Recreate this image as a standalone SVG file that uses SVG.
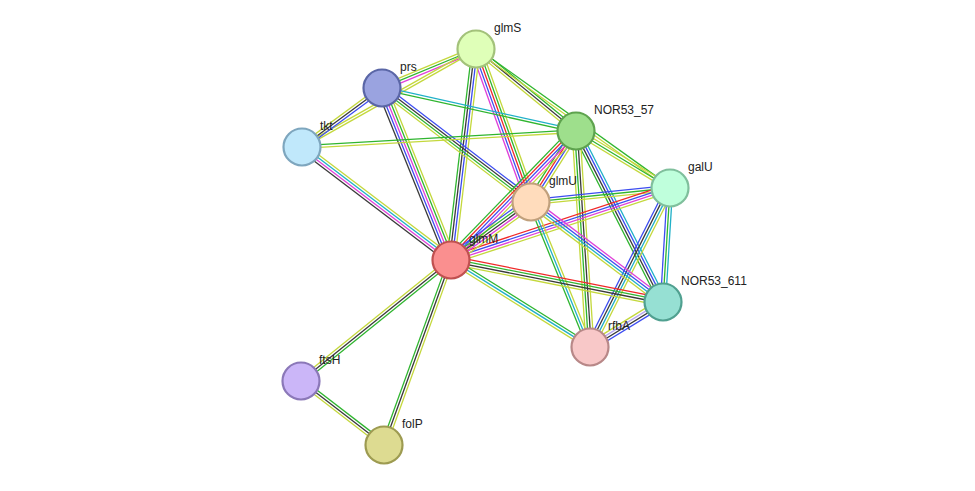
<svg xmlns="http://www.w3.org/2000/svg" width="975" height="491" viewBox="0 0 975 491">
<style>
line{stroke-width:1.3}
.g{stroke:#2fb52f}.y{stroke:#c4d83c}.k{stroke:#3a3a3a}.b{stroke:#3c4cf0}.m{stroke:#e040d8}.c{stroke:#20b0c8}.r{stroke:#f02828}.l{stroke:#b8a8f0}
.n circle{stroke-width:2.2}
text{font-family:"Liberation Sans",Arial,sans-serif;font-size:12px;fill:#222}
</style>
<rect width="975" height="491" fill="#fff"/>
<g id="connectors">
<g transform="translate(476,49) rotate(157.5)"><line x2="101.8" y1="-2.6" y2="-2.6" class="m"/><line x2="101.8" class="g"/><line x2="101.8" y1="2.6" y2="2.6" class="y"/></g>
<g transform="translate(476,49) rotate(39.35)"><line x2="129.3" y1="-2.6" y2="-2.6" class="g"/><line x2="129.3" class="k"/><line x2="129.3" y1="2.6" y2="2.6" class="y"/></g>
<g transform="translate(476,49) rotate(35.6)"><line x2="238.7" y1="-1.3" y2="-1.3" class="g"/><line x2="238.7" y1="1.3" y2="1.3" class="y"/></g>
<g transform="translate(476,49) rotate(70.2)"><line x2="162.6" y1="-5.2" y2="-5.2" class="y"/><line x2="162.6" y1="-2.6" y2="-2.6" class="g"/><line x2="162.6" class="r"/><line x2="162.6" y1="2.6" y2="2.6" class="b"/><line x2="162.6" y1="5.2" y2="5.2" class="m"/></g>
<g transform="translate(476,49) rotate(96.8)"><line x2="212.5" y1="-3.9" y2="-3.9" class="y"/><line x2="212.5" y1="-1.3" y2="-1.3" class="b"/><line x2="212.5" y1="1.3" y2="1.3" class="k"/><line x2="212.5" y1="3.9" y2="3.9" class="g"/></g>
<g transform="translate(302,147) rotate(-29.4)"><line x2="199.7" y1="-1.3" y2="-1.3" class="y"/><line x2="199.7" y1="1.3" y2="1.3" class="y"/></g>
<g transform="translate(382,88) rotate(12.5)"><line x2="198.7" y1="-1.3" y2="-1.3" class="c"/><line x2="198.7" y1="1.3" y2="1.3" class="g"/></g>
<g transform="translate(382,88) rotate(37.4)"><line x2="187.6" y1="-3.9" y2="-3.9" class="b"/><line x2="187.6" y1="-1.3" y2="-1.3" class="k"/><line x2="187.6" y1="1.3" y2="1.3" class="g"/><line x2="187.6" y1="3.9" y2="3.9" class="y"/></g>
<g transform="translate(382,88) rotate(68.1)"><line x2="185.3" y1="-5.2" y2="-5.2" class="y"/><line x2="185.3" y1="-2.6" y2="-2.6" class="g"/><line x2="185.3" class="m"/><line x2="185.3" y1="2.6" y2="2.6" class="b"/><line x2="185.3" y1="5.2" y2="5.2" class="k"/></g>
<g transform="translate(382,88) rotate(143.6)"><line x2="99.4" y1="-2.6" y2="-2.6" class="b"/><line x2="99.4" class="k"/><line x2="99.4" y1="2.6" y2="2.6" class="y"/></g>
<g transform="translate(302,147) rotate(-3.3)"><line x2="274.5" y1="-1.3" y2="-1.3" class="g"/><line x2="274.5" y1="1.3" y2="1.3" class="y"/></g>
<g transform="translate(302,147) rotate(37.2)"><line x2="187" y1="-3.9" y2="-3.9" class="y"/><line x2="187" y1="-1.3" y2="-1.3" class="c"/><line x2="187" y1="1.3" y2="1.3" class="m"/><line x2="187" y1="3.9" y2="3.9" class="k"/></g>
<g transform="translate(576,131) rotate(122.4)"><line x2="84.1" y1="-3.9" y2="-3.9" class="y"/><line x2="84.1" y1="-1.3" y2="-1.3" class="b"/><line x2="84.1" y1="1.3" y2="1.3" class="r"/><line x2="84.1" y1="3.9" y2="3.9" class="g"/></g>
<g transform="translate(576,131) rotate(134.1)"><line x2="179.6" y1="-5.2" y2="-5.2" class="y"/><line x2="179.6" y1="-2.6" y2="-2.6" class="m"/><line x2="179.6" class="b"/><line x2="179.6" y1="2.6" y2="2.6" class="r"/><line x2="179.6" y1="5.2" y2="5.2" class="g"/></g>
<g transform="translate(576,131) rotate(31.2)"><line x2="109.9" y1="-2.6" y2="-2.6" class="y"/><line x2="109.9" class="g"/><line x2="109.9" y1="2.6" y2="2.6" class="y"/></g>
<g transform="translate(576,131) rotate(63)"><line x2="191.9" y1="-3.9" y2="-3.9" class="c"/><line x2="191.9" y1="-1.3" y2="-1.3" class="b"/><line x2="191.9" y1="1.3" y2="1.3" class="k"/><line x2="191.9" y1="3.9" y2="3.9" class="g"/></g>
<g transform="translate(576,131) rotate(86.3)"><line x2="216.5" y1="-3.9" y2="-3.9" class="y"/><line x2="216.5" y1="-1.3" y2="-1.3" class="k"/><line x2="216.5" y1="1.3" y2="1.3" class="g"/><line x2="216.5" y1="3.9" y2="3.9" class="y"/></g>
<g transform="translate(670,188) rotate(174.2)"><line x2="139.7" y1="-2.6" y2="-2.6" class="y"/><line x2="139.7" class="g"/><line x2="139.7" y1="2.6" y2="2.6" class="b"/></g>
<g transform="translate(670,188) rotate(161.8)"><line x2="230.5" y1="-3.9" y2="-3.9" class="y"/><line x2="230.5" y1="-1.3" y2="-1.3" class="m"/><line x2="230.5" y1="1.3" y2="1.3" class="b"/><line x2="230.5" y1="3.9" y2="3.9" class="r"/></g>
<g transform="translate(670,188) rotate(93.5)"><line x2="114.2" y1="-2.6" y2="-2.6" class="c"/><line x2="114.2" class="g"/><line x2="114.2" y1="2.6" y2="2.6" class="b"/></g>
<g transform="translate(670,188) rotate(116.7)"><line x2="178" y1="-3.9" y2="-3.9" class="y"/><line x2="178" y1="-1.3" y2="-1.3" class="c"/><line x2="178" y1="1.3" y2="1.3" class="k"/><line x2="178" y1="3.9" y2="3.9" class="b"/></g>
<g transform="translate(531,202) rotate(144.1)"><line x2="98.8" y1="-5.2" y2="-5.2" class="y"/><line x2="98.8" y1="-2.6" y2="-2.6" class="m"/><line x2="98.8" class="k"/><line x2="98.8" y1="2.6" y2="2.6" class="g"/><line x2="98.8" y1="5.2" y2="5.2" class="b"/></g>
<g transform="translate(531,202) rotate(37.1)"><line x2="165.6" y1="-3.9" y2="-3.9" class="m"/><line x2="165.6" y1="-1.3" y2="-1.3" class="b"/><line x2="165.6" y1="1.3" y2="1.3" class="c"/><line x2="165.6" y1="3.9" y2="3.9" class="y"/></g>
<g transform="translate(531,202) rotate(67.9)"><line x2="156.5" y1="-2.6" y2="-2.6" class="y"/><line x2="156.5" class="c"/><line x2="156.5" y1="2.6" y2="2.6" class="g"/></g>
<g transform="translate(451,260) rotate(11.2)"><line x2="216.1" y1="-3.9" y2="-3.9" class="r"/><line x2="216.1" y1="-1.3" y2="-1.3" class="g"/><line x2="216.1" y1="1.3" y2="1.3" class="k"/><line x2="216.1" y1="3.9" y2="3.9" class="y"/></g>
<g transform="translate(451,260) rotate(32)"><line x2="164" y1="-2.6" y2="-2.6" class="g"/><line x2="164" class="c"/><line x2="164" y1="2.6" y2="2.6" class="y"/></g>
<g transform="translate(663,302) rotate(148.4)"><line x2="85.8" y1="-3.9" y2="-3.9" class="b"/><line x2="85.8" y1="-1.3" y2="-1.3" class="k"/><line x2="85.8" y1="1.3" y2="1.3" class="l"/><line x2="85.8" y1="3.9" y2="3.9" class="y"/></g>
<g transform="translate(451,260) rotate(141.1)"><line x2="192.7" y1="-2.6" y2="-2.6" class="g"/><line x2="192.7" class="k"/><line x2="192.7" y1="2.6" y2="2.6" class="y"/></g>
<g transform="translate(451,260) rotate(109.9)"><line x2="196.8" y1="-2.6" y2="-2.6" class="y"/><line x2="196.8" class="k"/><line x2="196.8" y1="2.6" y2="2.6" class="g"/></g>
<g transform="translate(301,381) rotate(37.6)"><line x2="104.8" y1="-2.6" y2="-2.6" class="g"/><line x2="104.8" class="k"/><line x2="104.8" y1="2.6" y2="2.6" class="y"/></g>
</g>
<g id="glmS" class="n"><circle cx="476" cy="49" r="18.5" fill="#dfffb8" stroke="#a3c27a"/><text x="494" y="32">glmS</text></g>
<g id="prs" class="n"><circle cx="382" cy="88" r="18.5" fill="#9aa3e0" stroke="#5a66a6"/><text x="400" y="71">prs</text></g>
<g id="tkt" class="n"><circle cx="302" cy="147" r="18.5" fill="#c0e8fb" stroke="#7ea6be"/><text x="320" y="130">tkt</text></g>
<g id="NOR53_57" class="n"><circle cx="576" cy="131" r="18.5" fill="#9edf8c" stroke="#5ea34e"/><text x="594" y="114">NOR53_57</text></g>
<g id="galU" class="n"><circle cx="670" cy="188" r="18.5" fill="#bfffdc" stroke="#7fbf9c"/><text x="688" y="171">galU</text></g>
<g id="glmU" class="n"><circle cx="531" cy="202" r="18.5" fill="#ffdcbc" stroke="#c0a07c"/><text x="549" y="185">glmU</text></g>
<g id="glmM" class="n"><circle cx="451" cy="260" r="18.5" fill="#fa8f8f" stroke="#c05050"/><text x="469" y="243">glmM</text></g>
<g id="NOR53_611" class="n"><circle cx="663" cy="302" r="18.5" fill="#96e0d3" stroke="#50a090"/><text x="681" y="285">NOR53_611</text></g>
<g id="rfbA" class="n"><circle cx="590" cy="347" r="18.5" fill="#f8c8c8" stroke="#b88888"/><text x="608" y="330">rfbA</text></g>
<g id="ftsH" class="n"><circle cx="301" cy="381" r="18.5" fill="#cbb6f8" stroke="#8b78b8"/><text x="319" y="364">ftsH</text></g>
<g id="folP" class="n"><circle cx="384" cy="445" r="18.5" fill="#dddb91" stroke="#9d9b51"/><text x="402" y="428">folP</text></g>
</svg>
